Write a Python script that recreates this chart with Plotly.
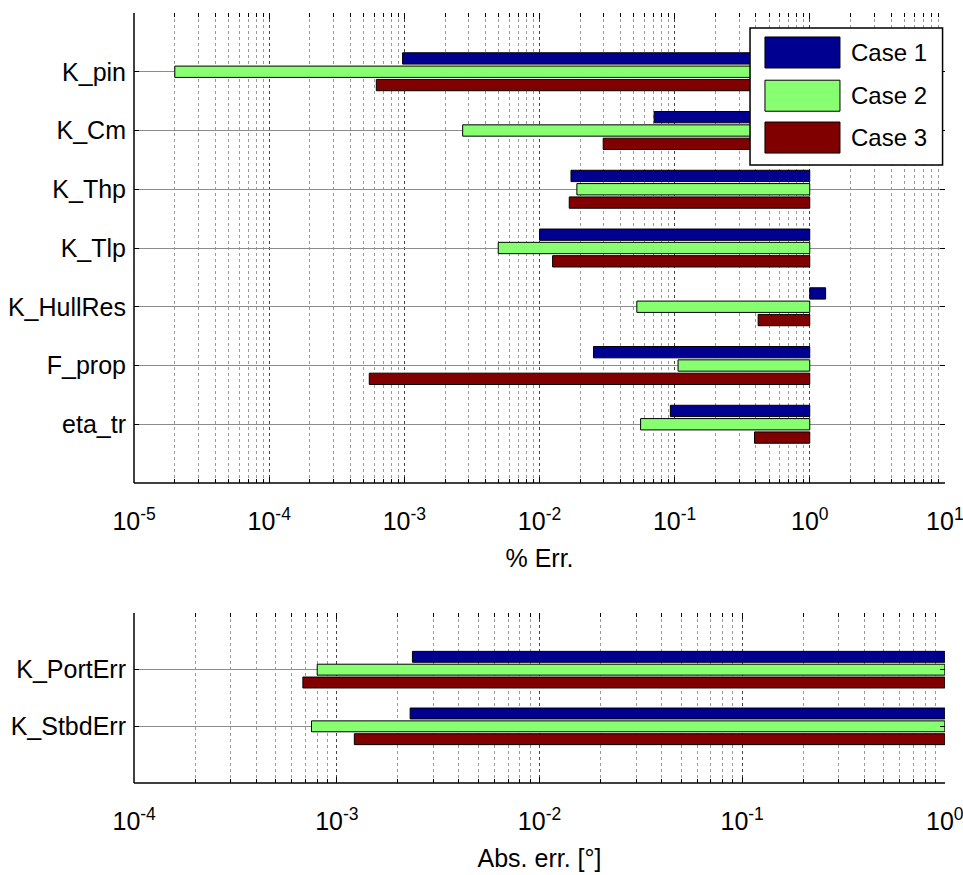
import plotly.graph_objects as go

# ---------------- data ----------------
series_names = ["Case 1", "Case 2", "Case 3"]
series_colors = ["#000090", "#88FF70", "#800000"]

top_categories = ["K_pin", "K_Cm", "K_Thp", "K_Tlp", "K_HullRes", "F_prop", "eta_tr"]
top_case1 = [9.7e-4, 0.0705, 0.0171, 0.0100, 1.31, 0.0251, 0.093]
top_case2 = [2.0e-5, 2.7e-3, 0.0189, 4.95e-3, 0.0525, 0.106, 0.056]
top_case3 = [6.2e-4, 0.0296, 0.0166, 0.0125, 0.415, 5.5e-4, 0.39]

bottom_categories = ["K_PortErr", "K_StbdErr"]
bottom_case1 = [2.36e-3, 2.3e-3]
bottom_case2 = [8.0e-4, 7.5e-4]
bottom_case3 = [6.8e-4, 1.22e-3]

baseline = 1.0

top_ticks = [1e-5, 1e-4, 1e-3, 1e-2, 1e-1, 1e0, 1e1]
top_ticktext = ["10<sup>-5</sup>", "10<sup>-4</sup>", "10<sup>-3</sup>", "10<sup>-2</sup>",
                "10<sup>-1</sup>", "10<sup>0</sup>", "10<sup>1</sup>"]
bottom_ticks = [1e-4, 1e-3, 1e-2, 1e-1, 1e0]
bottom_ticktext = ["10<sup>-4</sup>", "10<sup>-3</sup>", "10<sup>-2</sup>",
                   "10<sup>-1</sup>", "10<sup>0</sup>"]

FONT = "Liberation Sans, Arial, sans-serif"
EPS = 0.0008

fig = go.Figure()

top_series = [top_case1, top_case2, top_case3]
bottom_series = [bottom_case1, bottom_case2, bottom_case3]

for name, color, vals in zip(series_names, series_colors, top_series):
    fig.add_trace(go.Bar(
        y=top_categories, x=[v - baseline for v in vals], base=baseline,
        orientation="h", name=name, showlegend=False,
        marker=dict(color=color, line=dict(color="black", width=1)),
        xaxis="x", yaxis="y"))

for name, color, vals in zip(series_names, series_colors, bottom_series):
    fig.add_trace(go.Bar(
        y=bottom_categories, x=[v - baseline for v in vals], base=baseline,
        orientation="h", name=name, showlegend=False,
        marker=dict(color=color, line=dict(color="black", width=1)),
        xaxis="x2", yaxis="y2"))


def minor_vals(lo, hi):
    out = []
    for e in range(lo, hi):
        for k in range(2, 10):
            out.append(k * 10.0 ** e)
    return out


def xaxis_style(rng, ticks, ticktext, minor, title):
    return dict(
        type="log", range=[rng[0] - EPS, rng[1] + EPS], tickmode="array",
        tickvals=ticks, ticktext=ticktext,
        ticks="inside", ticklen=6, tickcolor="black", mirror="ticks", showline=False,
        showgrid=True, gridcolor="#444444", griddash="dot", gridwidth=1,
        minor=dict(tickvals=minor, ticks="inside", ticklen=4, tickcolor="black",
                   showgrid=True, gridcolor="#9a9a9a", griddash="dot", gridwidth=1),
        zeroline=False, automargin=False, ticklabeloverflow="allow",
        ticklabelstandoff=21,
        tickfont=dict(family=FONT, size=25, color="black"),
        title=dict(text=title, font=dict(family=FONT, size=25, color="black"), standoff=15),
    )


def yaxis_style(cats, rng):
    return dict(
        type="category", categoryorder="array", categoryarray=cats, range=rng,
        ticks="inside", ticklen=5, tickcolor="black", mirror="ticks", showline=False,
        showgrid=True, gridcolor="#8c8c8c", gridwidth=1, zeroline=False, automargin=False,
        ticklabelstandoff=7,
        tickfont=dict(family=FONT, size=25, color="black"),
    )


xd = [134 / 963, 945 / 963]
fig.update_layout(
    width=963, height=875, margin=dict(l=0, r=0, t=0, b=0),
    paper_bgcolor="white", plot_bgcolor="white",
    barmode="group", bargap=0.32, bargroupgap=0.15,
    font=dict(family=FONT, color="black"),
    xaxis=dict(domain=xd, anchor="y",
               **xaxis_style([-5, 1], top_ticks, top_ticktext, minor_vals(-5, 1), "% Err.")),
    yaxis=dict(domain=[1 - 483 / 875, 1 - 13 / 875], anchor="x",
               **yaxis_style(top_categories, [len(top_categories), -1])),
    xaxis2=dict(domain=xd, anchor="y2",
                **xaxis_style([-4, 0], bottom_ticks, bottom_ticktext, minor_vals(-4, 0), "Abs. err. [°]")),
    yaxis2=dict(domain=[1 - 783 / 875, 1 - 613 / 875], anchor="x2",
                **yaxis_style(bottom_categories, [len(bottom_categories), -1])),
)

shapes = []
# left and bottom axis lines
for xr, yr in [("x domain", "y domain"), ("x2 domain", "y2 domain")]:
    shapes.append(dict(type="line", xref=xr, yref=yr, x0=0, x1=0, y0=0, y1=1,
                       line=dict(color="black", width=1.5)))
    shapes.append(dict(type="line", xref=xr, yref=yr, x0=0, x1=1, y0=0, y1=0,
                       line=dict(color="black", width=1.5)))

# custom MATLAB-like legend in the top axes
shapes.append(dict(type="rect", xref="x domain", yref="y domain",
                   x0=0.7596, x1=0.997, y0=0.6766, y1=0.968,
                   fillcolor="white", line=dict(color="black", width=1.5), layer="above"))
patch_tops = [0.949, 0.857, 0.768]
annotations = []
for name, color, yt in zip(series_names, series_colors, patch_tops):
    shapes.append(dict(type="rect", xref="x domain", yref="y domain",
                       x0=0.778, x1=0.8705, y0=yt - 0.066, y1=yt,
                       fillcolor=color, line=dict(color="black", width=1), layer="above"))
    annotations.append(dict(xref="x domain", yref="y domain", x=0.882, y=yt - 0.033,
                            text=name, showarrow=False, xanchor="left", yanchor="middle",
                            font=dict(family=FONT, size=24, color="black")))

fig.update_layout(shapes=shapes, annotations=annotations)

fig.write_html("out.html", config={"displayModeBar": False},
               post_script="document.body.style.margin='0px';document.body.style.overflow='hidden';")
